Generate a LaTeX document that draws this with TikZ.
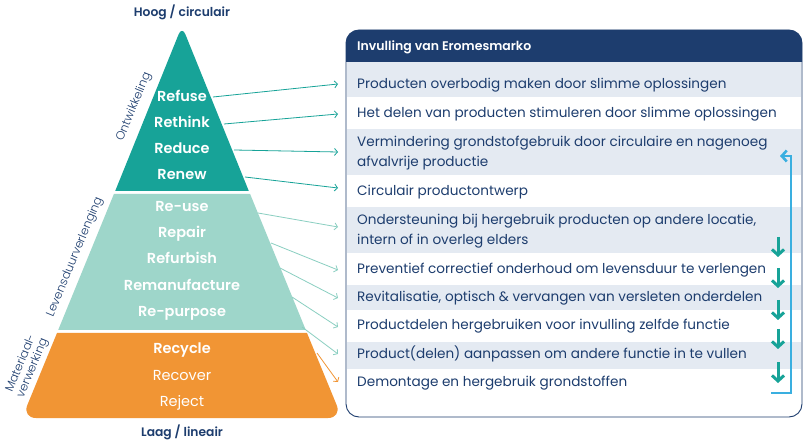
\documentclass[tikz,border=0pt]{standalone}
\usepackage{fontspec}
\setmainfont{Poppins}
\newfontfamily\sbfont{Poppins SemiBold}
\newfontfamily\ltfont{Poppins Light}
\usetikzlibrary{arrows.meta}
\definecolor{navy}{HTML}{1D3D6E}
\definecolor{tealA}{HTML}{17A398}
\definecolor{tealB}{HTML}{9ED6CA}
\definecolor{tealC}{HTML}{8ACFC1}
\definecolor{orng}{HTML}{F19534}
\definecolor{rowshade}{HTML}{E4EAF2}
\definecolor{sky}{HTML}{3AAFE0}
\begin{document}
\begin{tikzpicture}[x=1pt,y=-1pt,
  rowtext/.style={anchor=west,inner sep=0pt,text=navy,align=left,font=\fontsize{13.6}{20}\selectfont},
  pyrlab/.style={anchor=base,inner sep=1pt,text=white,font=\sbfont\fontsize{14.5}{17}\selectfont},
  pyrlabr/.style={anchor=base,inner sep=1pt,text=white,font=\fontsize{14.5}{17}\selectfont},
  sidelab/.style={rotate=67.5,inner sep=0pt,text=navy,align=center,font=\ltfont\fontsize{11.8}{12.5}\selectfont},
  endlab/.style={anchor=base,inner sep=0pt,text=navy,font=\sbfont\fontsize{12.3}{14}\selectfont},
  link/.style={line width=0.8pt,-{Straight Barb[length=3pt,width=7pt]}},
  downarrow/.style={tealA,line width=3pt,-{Straight Barb[length=5.5pt,width=12pt]}},
  backarrow/.style={sky,line width=2.6pt,-{Straight Barb[length=5pt,width=11pt]}}]
\useasboundingbox (0,0) rectangle (806,446);
\fill[white] (0,0) rectangle (806,446);

% ---------- pyramid ----------
\fill[tealA] (115.2,191) [rounded corners=9pt] -- (182,26) [sharp corners] -- (248.8,191) -- cycle;
\fill[tealB] (113.9,194) -- (250.1,194) -- (305.8,330) -- (58.2,330) -- cycle;
\fill[orng] (57,333) -- (307,333) [rounded corners=14pt] -- (342,418) -- (22,418) [sharp corners] -- cycle;

\node[endlab] (top) at (182,17) {Hoog / circulair};
\node[endlab] (bot) at (182,436) {Laag / lineair};

\node[pyrlab] (p1) at (182,101.7) {Refuse};
\node[pyrlab] (p2) at (182,127.7) {Rethink};
\node[pyrlab] (p3) at (182,153.7) {Reduce};
\node[pyrlab] (p4) at (182,180) {Renew};
\node[pyrlab] (p5) at (182,211.7) {Re-use};
\node[pyrlab] (p6) at (182,238) {Repair};
\node[pyrlab] (p7) at (182,264) {Refurbish};
\node[pyrlab] (p8) at (182,290.7) {Remanufacture};
\node[pyrlab] (p9) at (182,317) {Re-purpose};
\node[pyrlab] (p10) at (182,353) {Recycle};
\node[pyrlabr] (p11) at (182,380) {Recover};
\node[pyrlabr] (p12) at (182,406) {Reject};

\node[sidelab] (s-ont) at (134,107) {Ontwikkeling};
\node[sidelab] (s-lev) at (75,257) {Levensduurverlenging};
\node[sidelab] (s-mat) at (27,366) {Materiaal-\\verwerking};

% ---------- table ----------
\fill[rowshade] (347,62) rectangle (801,97);
\fill[rowshade] (347,129) rectangle (801,175);
\fill[rowshade] (347,207) rectangle (801,253);
\fill[rowshade] (347,285) rectangle (801,310);
\fill[rowshade] (347,342) rectangle (801,369);
\draw[navy,line width=0.9pt,rounded corners=13pt] (346,30) rectangle (802,417);
\fill[navy] (346,62) [rounded corners=13pt] -- (346,30) -- (802,30) [sharp corners] -- (802,62) -- cycle;
\node[anchor=base west,inner sep=0pt,text=white,font=\sbfont\fontsize{12.5}{14}\selectfont] (head) at (357,51) {Invulling van Eromesmarko};

\node[rowtext] (r1) at (357,85.4) {Producten overbodig maken door slimme oplossingen};
\node[rowtext] (r2) at (357,114.4) {Het delen van producten stimuleren door slimme oplossingen};
\node[rowtext] (r3) at (357,153.4) {Vermindering grondstofgebruik door circulaire en nagenoeg\\afvalvrije productie};
\node[rowtext] (r4) at (357,192.4) {Circulair productontwerp};
\node[rowtext] (r5) at (357,231.4) {Ondersteuning bij hergebruik producten op andere locatie,\\intern of in overleg elders};
\node[rowtext] (r6) at (357,270.4) {Preventief correctief onderhoud om levensduur te verlengen};
\node[rowtext] (r7) at (357,298.4) {Revitalisatie, optisch \& vervangen van versleten onderdelen};
\node[rowtext] (r8) at (357,326.4) {Productdelen hergebruiken voor invulling zelfde functie};
\node[rowtext] (r9) at (357,354.4) {Product(delen) aanpassen om andere functie in te vullen};
\node[rowtext] (r10) at (357,383.4) {Demontage en hergebruik grondstoffen};

% ---------- connectors ----------
\coordinate (s1) at (213,97);   \coordinate (e1) at (338,84);
\coordinate (s2) at (224,124);  \coordinate (e2) at (338,114);
\coordinate (s3) at (234,150);  \coordinate (e3) at (338,152);
\coordinate (s4) at (245,177);  \coordinate (e4) at (338,188);
\coordinate (s5) at (258,213);  \coordinate (e5) at (338,227);
\coordinate (s6) at (271,243);  \coordinate (e6) at (338,270);
\coordinate (s7) at (280,268);  \coordinate (e7) at (338,298);
\coordinate (s8) at (292,297);  \coordinate (e8) at (338,327);
\coordinate (s9) at (302,327);  \coordinate (e9) at (338,354);
\coordinate (s10) at (317,353); \coordinate (e10) at (338,382);
\foreach \i in {1,...,4} {\draw[link,tealA] (s\i) -- (e\i);}
\foreach \i in {5,...,9} {\draw[link,tealC] (s\i) -- (e\i);}
\draw[link,orng] (s10) -- (e10);

% down arrows
\coordinate (d1a) at (778,237); \coordinate (d1b) at (778,257);
\coordinate (d2a) at (778,268); \coordinate (d2b) at (778,288);
\coordinate (d3a) at (778,300); \coordinate (d3b) at (778,320);
\coordinate (d4a) at (778,329); \coordinate (d4b) at (778,349);
\coordinate (d5a) at (778,362); \coordinate (d5b) at (778,383);
\foreach \i in {1,...,5} {\draw[downarrow] (d\i a) -- (d\i b);}

% back arrow
\coordinate (b0) at (771,393);
\coordinate (b1) at (791,393);
\coordinate (b2) at (791,156);
\coordinate (b3) at (780,156);
\draw[backarrow] (b0) -- (b1) -- (b2) -- (b3);
\end{tikzpicture}
\end{document}
